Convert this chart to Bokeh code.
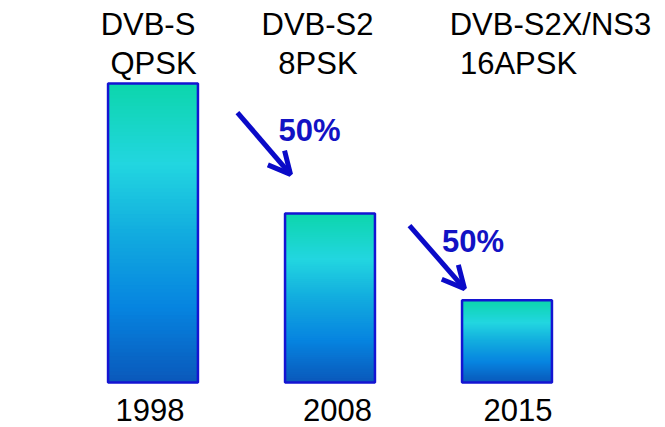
from bokeh.plotting import figure
from bokeh.models import Range1d, ColumnDataSource, Arrow, OpenHead
from bokeh.core.properties import value
from bokeh.embed import file_html
from bokeh.resources import INLINE

# ---------------- data ----------------
years = ["1998", "2008", "2015"]
bar_values = [100, 56.5, 27.5]
standard = ["DVB-S", "DVB-S2", "DVB-S2X/NS3"]
modulation = ["QPSK", "8PSK", "16APSK"]
reduction_labels = ["50%", "50%"]

# ---------------- layout / style ----------------
FONT = "Liberation Sans"
BAR_W = 0.508
N_STRIPS = 80
grad_stops = [
    (0.00, (0x0C, 0xD6, 0xAC)),
    (0.27, (0x22, 0xD6, 0xE0)),
    (0.50, (0x12, 0xAC, 0xDF)),
    (0.75, (0x06, 0x84, 0xE0)),
    (1.00, (0x0A, 0x58, 0xBA)),
]

def grad_color(t):
    for (t0, c0), (t1, c1) in zip(grad_stops[:-1], grad_stops[1:]):
        if t0 <= t <= t1:
            f = (t - t0) / (t1 - t0)
            r, g, b = (round(a + (bb - a) * f) for a, bb in zip(c0, c1))
            return "#%02x%02x%02x" % (r, g, b)
    return "#%02x%02x%02x" % grad_stops[-1][1]

p = figure(width=665, height=427, output_backend="svg", toolbar_location=None,
           x_axis_location=None, y_axis_location=None, min_border=0,
           x_range=Range1d(-0.8616, 2.8955), y_range=Range1d(-15.05, 127.76))
p.grid.visible = False
p.outline_line_color = None
p.background_fill_color = "white"
p.border_fill_color = "white"

xs = list(range(len(years)))

# gradient bars: overlapping stacked quads from top colour to bottom colour
left, right, bottom, top, color = [], [], [], [], []
for x, v in zip(xs, bar_values):
    for k in range(N_STRIPS):
        left.append(x - BAR_W / 2)
        right.append(x + BAR_W / 2)
        bottom.append(0)
        top.append(v * (1 - k / N_STRIPS))
        color.append(grad_color((k + 0.5) / N_STRIPS))
p.quad(left="left", right="right", bottom="bottom", top="top", fill_color="color",
       line_color=None,
       source=ColumnDataSource(dict(left=left, right=right, bottom=bottom, top=top, color=color)))

# outlines
p.quad(left=[x - BAR_W / 2 for x in xs], right=[x + BAR_W / 2 for x in xs],
       bottom=[0] * len(xs), top=bar_values, fill_alpha=0,
       line_color="#1414d2", line_width=2.5)

# year labels (below) and headings (above)
year_dx = [-3, 7.5, 11]
std_dx = [-5, -12.5, 43.5]
mod_dx = [0.5, -12, 11.5]
p.text(x=xs, y=[-9.2] * 3, text=years, x_offset=year_dx, text_align="center",
       text_baseline="middle", text_font=value(FONT), text_font_size="31px",
       text_line_height=1.0, text_color="black")
p.text(x=xs, y=[119.7] * 3, text=standard, x_offset=std_dx, text_align="center",
       text_baseline="middle", text_font=value(FONT), text_font_size="31px",
       text_color="black")
p.text(x=xs, y=[106.8] * 3, text=modulation, x_offset=mod_dx, text_align="center",
       text_baseline="middle", text_font=value(FONT), text_font_size="31px",
       text_color="black")

# arrows with reduction labels
arrow_color = "#0a0ac8"
arrows = [((0.477, 90.3), (0.777, 69.6)), ((1.449, 52.5), (1.760, 31.4))]
for (x0, y0), (x1, y1) in arrows:
    p.add_layout(Arrow(x_start=x0, y_start=y0, x_end=x1, y_end=y1,
                       line_color=arrow_color, line_width=5,
                       end=OpenHead(size=22, line_color=arrow_color, line_width=5)))
p.text(x=[0.884, 1.808], y=[84.4, 47.0], text=reduction_labels, text_align="center",
       text_baseline="middle", text_font=value(FONT), text_font_size="31px",
       text_font_style="bold", text_color="#1212c4")

open("out.html", "w").write(file_html(p, INLINE))
